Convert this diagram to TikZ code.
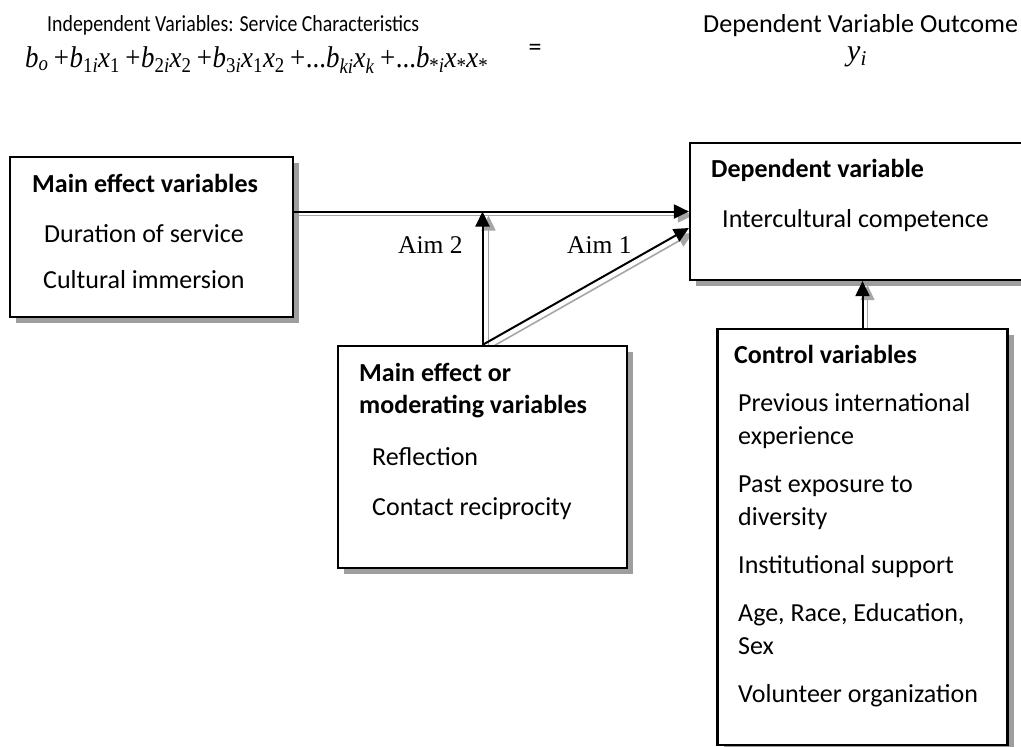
\documentclass[tikz,border=0pt]{standalone}
\usepackage{fontspec}
\setmainfont{Carlito}
\newfontfamily\tnr{Liberation Serif}
\usetikzlibrary{shadows,arrows.meta,calc,backgrounds}
\newcommand\plusop{\hspace{0.2em}+\hspace{0.02em}}
\begin{document}
\begin{tikzpicture}[x=1pt,y=-1pt,
  box/.style={draw, line width=2.2pt, fill=white, inner sep=0pt,
    drop shadow={shadow xshift=6pt, shadow yshift=-6pt, fill=black!38, opacity=1}},
  txt/.style={anchor=base west, inner sep=0pt, font=\fontsize{26}{31}\selectfont},
  hd/.style={anchor=base west, inner sep=0pt, font=\fontsize{26}{31}\selectfont\bfseries},
  arr/.style={line width=2pt, -{Triangle[length=15pt,width=14pt]}},
  sh/.style={line width=1.6pt, draw=black!35, -{Triangle[length=15pt,width=14pt,fill=black!35]}},
  aim/.style={anchor=base west, inner sep=0pt, font=\tnr\fontsize{25.5}{30}\selectfont},
  plain/.style={anchor=base west, inner sep=0pt}]
\useasboundingbox (0,0) rectangle (1021,747);

% header
\node[plain] (t1) at (47,31) {\resizebox{372pt}{\height}{\fontsize{23}{28}\selectfont Independent Variables: Service Characteristics}};
\node[plain] (t2) at (703,32) {\resizebox{315pt}{\height}{\fontsize{26}{31}\selectfont Dependent Variable Outcome}};
\node[plain] (eq) at (25,67) {\resizebox{463pt}{\height}{\tnr\fontsize{30}{34}\selectfont
  \textit{b}\textsubscript{\textit{o}}\plusop
  \textit{b}\textsubscript{1\textit{i}}\textit{x}\textsubscript{1}\plusop
  \textit{b}\textsubscript{2\textit{i}}\textit{x}\textsubscript{2}\plusop
  \textit{b}\textsubscript{3\textit{i}}\textit{x}\textsubscript{1}\textit{x}\textsubscript{2}\plusop...%
  \textit{b}\textsubscript{\textit{ki}}\textit{x}\textsubscript{\textit{k}}\plusop...%
  \textit{b}\textsubscript{*\textit{i}}\textit{x}\textsubscript{*}\textit{x}\textsubscript{*}}};
\node[inner sep=0pt, font=\fontsize{26}{31}\selectfont] (eqs) at (535,50) {=};
\node[plain] (yi) at (847,60) {\tnr\fontsize{30}{34}\selectfont\textit{y}\textsubscript{\textit{i}}};

% boxes
\node[box, minimum width=283pt, minimum height=160pt] (mainbox) at (151.5,237) {};
\node[box, minimum width=345pt, minimum height=137pt] (depbox) at (862.5,211.5) {};
\node[box, minimum width=289pt, minimum height=222pt] (modbox) at (482.5,457) {};
\node[box, minimum width=290pt, minimum height=416pt] (ctrlbox) at (862.5,537) {};

% box texts
\node[hd] (m0) at (32,192) {Main effect variables};
\node[txt] (m1) at (44,242) {Duration of service};
\node[txt] (m2) at (43,288) {Cultural immersion};

\node[hd] (d0) at (711,177) {Dependent variable};
\node[txt] (d1) at (722,227) {Intercultural competence};

\node[hd] (o0) at (359,381) {Main effect or};
\node[hd] (o1) at (359,413) {moderating variables};
\node[txt] (o2) at (372,465) {Reflection};
\node[txt] (o3) at (372,515) {Contact reciprocity};

\node[hd] (c0) at (734,363) {Control variables};
\node[txt] (c1) at (738,411) {Previous international};
\node[txt] (c2) at (738,444) {experience};
\node[txt] (c3) at (738,492) {Past exposure to};
\node[txt] (c4) at (738,525) {diversity};
\node[txt] (c5) at (738,573) {Institutional support};
\node[txt] (c6) at (738,621) {Age, Race, Education,};
\node[txt] (c7) at (738,654) {Sex};
\node[txt] (c8) at (738,702) {Volunteer organization};

\node[aim] (a2) at (398,253) {Aim 2};
\node[aim] (a1) at (567,253) {Aim 1};

% connector coordinates
\coordinate (H0) at (mainbox.east |- depbox.west);
\coordinate (J) at (modbox.north |- depbox.west);
\coordinate (D1) at ([yshift=-16.5pt]depbox.west);
\coordinate (C1) at (ctrlbox.north |- depbox.south);

\begin{pgfonlayer}{background}
\draw[sh] ($(H0)+(5,4)$) -- ($(depbox.west)+(4,4)$);
\draw[sh] ($(modbox.north)+(6,0)$) -- ($(J)+(6,4)$);
\draw[sh] ($(modbox.north)+(6,4)$) -- ($(D1)+(4,5)$);
\draw[sh] ($(ctrlbox.north)+(5,0)$) -- ($(C1)+(5,4)$);
\end{pgfonlayer}

\draw[arr] (H0) -- (depbox.west);
\draw[arr] (modbox.north) -- (J);
\draw[arr] (modbox.north) -- (D1);
\draw[arr] (ctrlbox.north) -- (C1);
\end{tikzpicture}
\end{document}
